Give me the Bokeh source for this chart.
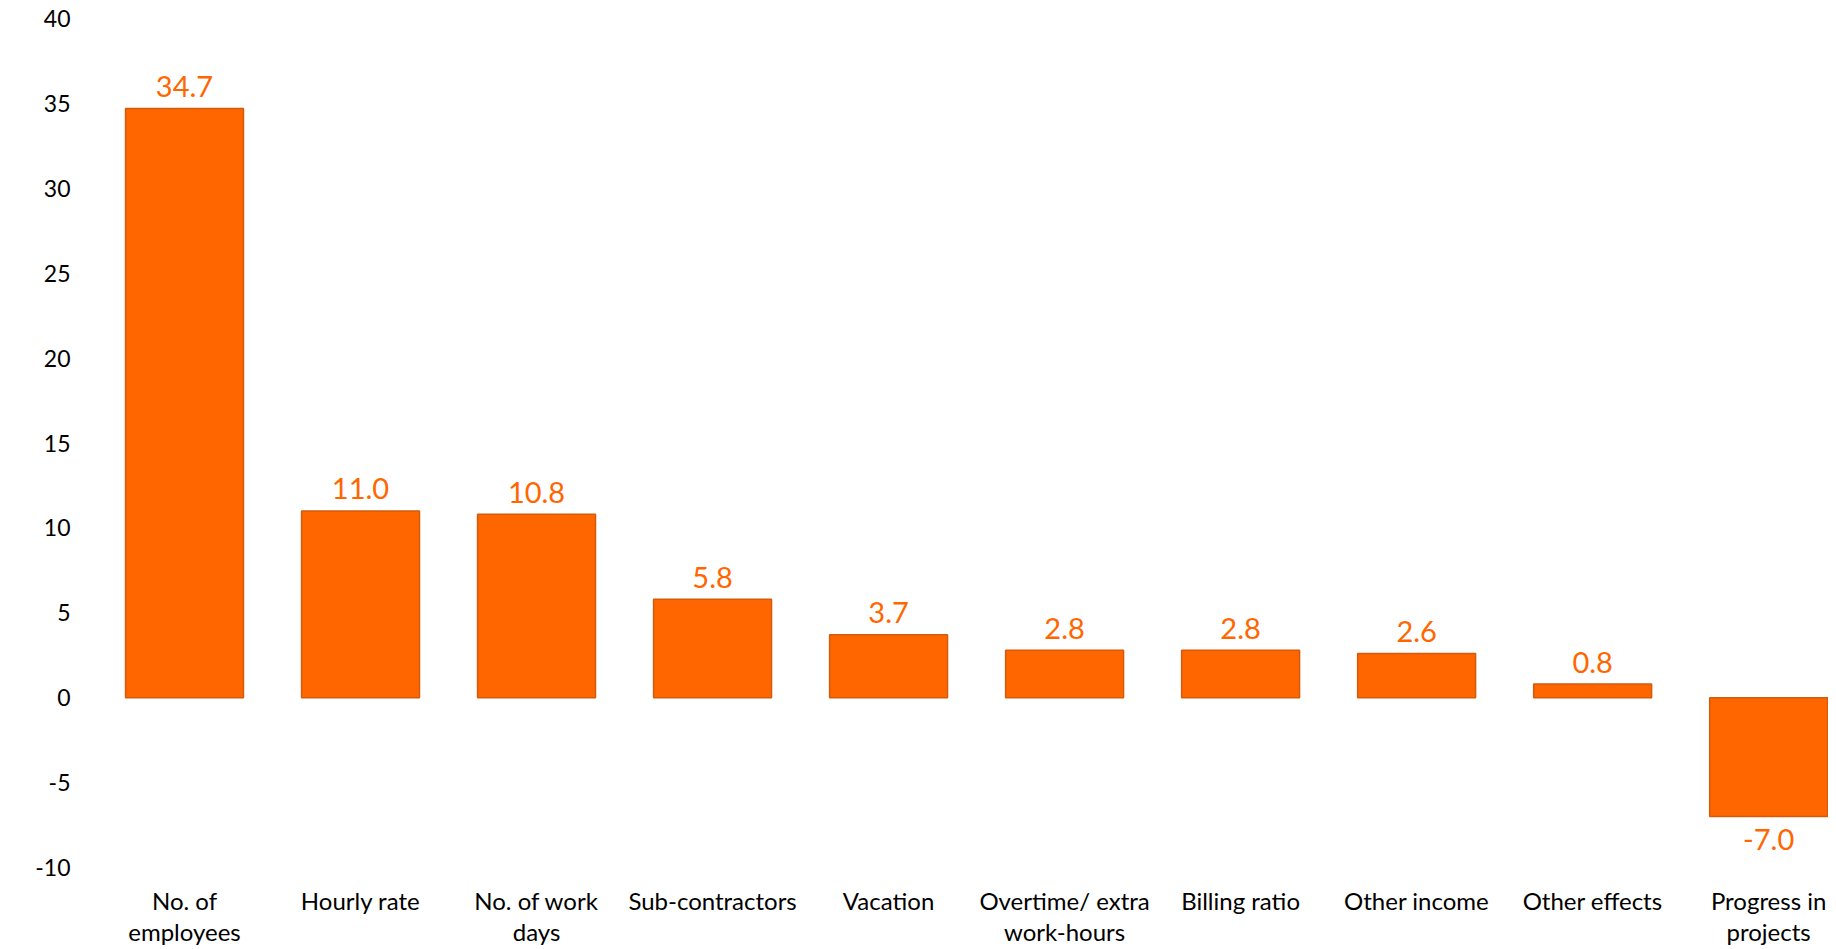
from bokeh.plotting import figure
from bokeh.models import Range1d, FixedTicker, ColumnDataSource
from bokeh.core.properties import value
from bokeh.embed import file_html
from bokeh.resources import INLINE

categories = ["No. of\nemployees", "Hourly rate", "No. of work\ndays", "Sub-contractors",
              "Vacation", "Overtime/ extra\nwork-hours", "Billing ratio", "Other income",
              "Other effects", "Progress in\nprojects"]
values = [34.7, 11.0, 10.8, 5.8, 3.7, 2.8, 2.8, 2.6, 0.8, -7.0]
y_ticks = [-10, -5, 0, 5, 10, 15, 20, 25, 30, 35, 40]

FONT = "Lato"
ORANGE = "#FF6600"

xs = list(range(len(values)))
src = ColumnDataSource(dict(
    x=xs,
    top=[v if v > 0 else 0 for v in values],
    bottom=[v if v < 0 else 0 for v in values],
))
pos = ColumnDataSource(dict(x=[x for x, v in zip(xs, values) if v >= 0],
                            y=[v for v in values if v >= 0],
                            label=[f"{v:.1f}" for v in values if v >= 0]))
neg = ColumnDataSource(dict(x=[x for x, v in zip(xs, values) if v < 0],
                            y=[v for v in values if v < 0],
                            label=[f"{v:.1f}" for v in values if v < 0]))

p = figure(width=1828, height=949, output_backend="svg", toolbar_location=None,
           x_range=Range1d(-0.5, 9.34), y_range=Range1d(-10, 40),
           min_border_left=96, min_border_right=0, min_border_top=18, min_border_bottom=82)
p.outline_line_color = None
p.grid.grid_line_color = None
p.background_fill_color = "white"

p.vbar(x="x", top="top", bottom="bottom", width=0.67, source=src,
       fill_color=ORANGE, line_color="#D35B0C", line_width=1.5)

p.text(x="x", y="y", text="label", source=pos, text_font=value(FONT),
       text_font_size="29px", text_color=ORANGE, text_align="center",
       text_baseline="alphabetic", y_offset=-22)
p.text(x="x", y="y", text="label", source=neg, text_font=value(FONT),
       text_font_size="29px", text_color=ORANGE, text_align="center",
       text_baseline="alphabetic", y_offset=23)

ya = p.yaxis[0]
ya.ticker = FixedTicker(ticks=y_ticks)
ya.major_label_overrides = {t: str(t) for t in y_ticks}
ya.axis_line_color = None
ya.major_tick_line_color = None
ya.minor_tick_line_color = None
ya.major_label_text_font = FONT
ya.major_label_text_font_size = "23px"
ya.major_label_text_color = "#000000"
ya.major_label_standoff = 20

xa = p.xaxis[0]
xa.ticker = FixedTicker(ticks=xs)
xa.major_label_overrides = {i: c for i, c in enumerate(categories)}
xa.axis_line_color = None
xa.major_tick_line_color = None
xa.minor_tick_line_color = None
xa.major_label_text_font = FONT
xa.major_label_text_font_size = "24px"
xa.major_label_text_line_height = 1.1
xa.major_label_text_color = "#000000"
xa.major_label_standoff = 12

open("out.html", "w").write(file_html(p, INLINE))
